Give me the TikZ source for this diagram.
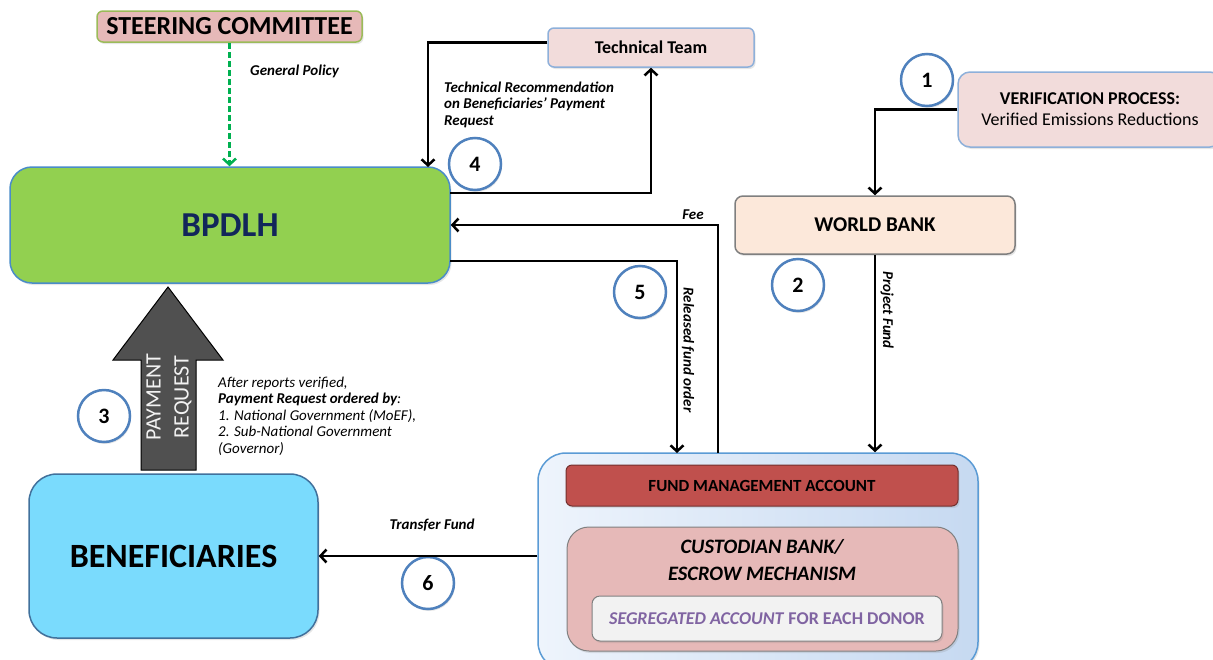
\documentclass[tikz,border=0pt]{standalone}
\usepackage{fontspec}
\setmainfont{Carlito}
\usetikzlibrary{shadows, arrows.meta}

\definecolor{steerpink}{HTML}{E6B9B8}
\definecolor{steergreen}{HTML}{9BBB59}
\definecolor{bpgreen}{HTML}{92D050}
\definecolor{bpblue}{HTML}{4A8CC8}
\definecolor{bpnavy}{HTML}{12265A}
\definecolor{palepink}{HTML}{F2DCDB}
\definecolor{paleblue}{HTML}{8EB0DA}
\definecolor{peach}{HTML}{FCE8DA}
\definecolor{wbgrey}{HTML}{7F7F7F}
\definecolor{skyblue}{HTML}{7ADBFD}
\definecolor{benblue}{HTML}{41719C}
\definecolor{arrowgrey}{HTML}{505050}
\definecolor{circblue}{HTML}{4F81BD}
\definecolor{policygreen}{HTML}{00B050}
\definecolor{outerblue}{HTML}{5B9BD5}
\definecolor{outerleft}{HTML}{EEF4FC}
\definecolor{outerright}{HTML}{C6D9F1}
\definecolor{fmared}{HTML}{C0504D}
\definecolor{purpletext}{HTML}{8064A2}

\tikzset{
    >={Straight Barb[length=6pt, width=13pt]},
    box/.style={draw, line width=1.5pt, inner sep=0pt, rounded corners=6pt,
        drop shadow={shadow xshift=1.5pt, shadow yshift=-2pt, opacity=0.2}},
    stepnum/.style={circle, draw=circblue, fill=white, line width=2.5pt, minimum size=52pt,
        inner sep=0pt, font=\fontsize{22}{26}\selectfont\bfseries,
        drop shadow={shadow xshift=1pt, shadow yshift=-2pt, opacity=0.2}},
    flow/.style={->, line width=2.5pt},
    policy/.style={->, policygreen, line width=2.5pt, dash pattern=on 6pt off 3pt},
    lbl/.style={inner sep=0pt, font=\fontsize{15}{16.5}\selectfont\bfseries\itshape},
}

\begin{document}
\begin{tikzpicture}[x=1pt, y=-1pt]
    \useasboundingbox (0,0) rectangle (1213,659);

    % boxes
    \node[box, fill=steerpink, draw=steergreen, minimum width=265pt, minimum height=31pt,
        font=\fontsize{26}{30}\selectfont\bfseries] (steer) at (229.5,26.5) {STEERING COMMITTEE};
    \node[box, fill=bpgreen, draw=bpblue, rounded corners=22pt, minimum width=440pt, minimum height=116pt,
        text=bpnavy, font=\fontsize{35}{40}\selectfont\bfseries] (bpdlh) at (230,225) {BPDLH};
    \node[box, fill=palepink, draw=paleblue, minimum width=206pt, minimum height=39pt,
        font=\fontsize{18}{21}\selectfont\bfseries] (tech) at (651,47.5) {Technical Team};
    \node[box, fill=palepink, draw=paleblue, rounded corners=12pt, minimum width=264pt, minimum height=75pt,
        align=center, font=\fontsize{18}{21}\selectfont] (verif) at (1090,109.5)
        {\textbf{VERIFICATION PROCESS:}\\Verified Emissions Reductions};
    \node[box, fill=peach, draw=wbgrey, rounded corners=8pt, minimum width=280pt, minimum height=58pt,
        font=\fontsize{21}{25}\selectfont\bfseries] (wb) at (875,225) {WORLD BANK};
    \node[box, fill=skyblue, draw=benblue, rounded corners=28pt, minimum width=289pt, minimum height=164pt,
        font=\fontsize{34}{40}\selectfont\bfseries] (benef) at (173.5,556) {BENEFICIARIES};

    % escrow block
    \node[box, left color=outerleft, right color=outerright, draw=outerblue, rounded corners=28pt,
        minimum width=440pt, minimum height=217pt] (outer) at (758,561.5) {};
    \node[box, fill=fmared, draw=fmared!60!black, line width=1pt, minimum width=392pt, minimum height=41pt,
        font=\fontsize{17}{20}\selectfont\bfseries] (fma) at (762,485.5) {FUND MANAGEMENT ACCOUNT};
    \node[box, fill=steerpink, draw=gray, line width=1pt, rounded corners=22pt,
        minimum width=391pt, minimum height=124pt] (cust) at (762.5,589) {};
    \node[inner sep=0pt, align=center, font=\fontsize{20.5}{27}\selectfont\bfseries\itshape]
        (custL) at (762,560.5) {CUSTODIAN BANK/\\ESCROW MECHANISM};
    \node[box, fill=black!5, draw=gray, line width=1pt, rounded corners=8pt, minimum width=350pt,
        minimum height=45pt, text=purpletext, font=\fontsize{18}{21}\selectfont\bfseries]
        (seg) at (767,618.5) {\textit{SEGREGATED ACCOUNT} FOR EACH DONOR};

    % payment request arrow
    \draw[fill=arrowgrey, line width=1pt] (141,470) -- (141,360) -- (113,360) -- (168,287)
        -- (223,360) -- (196,360) -- (196,470) -- cycle;
    \node[rotate=90, inner sep=0pt, align=center, text=black!5, font=\fontsize{22}{28}\selectfont]
        (payreq) at (169,397) {PAYMENT\\REQUEST};

    % numbered steps
    \node[stepnum] (n1) at (927,80) {1};
    \node[stepnum] (n2) at (798,285) {2};
    \node[stepnum] (n3) at (104,416) {3};
    \node[stepnum] (n4) at (475,164) {4};
    \node[stepnum] (n5) at (640,292) {5};
    \node[stepnum] (n6) at (428,583) {6};

    % connectors
    \coordinate (recin) at (428,167);
    \coordinate (recout) at (450,193);
    \coordinate (feefoot) at (718,453);
    \coordinate (relout) at (450,261);
    \coordinate (relin) at (677,453);

    \draw[policy] (steer.south) -- (steer.south |- bpdlh.north);
    \draw[flow] ([yshift=5pt]tech.west) -| (recin);
    \draw[flow] (recout) -| (tech.south);
    \draw[flow] (feefoot) |- (bpdlh.east);
    \draw[flow] (relout) -| (relin);
    \draw[flow] (verif.west) -| (wb.north);
    \draw[flow] (wb.south) -- (wb.south |- outer.north);
    \draw[flow] (outer.west |- benef.east) -- (benef.east);

    % labels
    \node[lbl, anchor=west] (polL) at (250,71) {General Policy};
    \node[lbl, anchor=west, align=left] (recL) at (444,104.5)
        {Technical Recommendation\\on Beneficiaries' Payment\\Request};
    \node[lbl] (feeL) at (693,215) {Fee};
    \node[lbl, rotate=-90] (projL) at (887,310) {Project Fund};
    \node[lbl, rotate=-90] (relL) at (688,350) {Released fund order};
    \node[lbl] (trL) at (432,525) {Transfer Fund};
    \node[anchor=west, align=left, inner sep=0pt, font=\fontsize{15}{16.5}\selectfont\itshape]
        (afterL) at (218,416) {After reports verified,\\\textbf{Payment Request ordered by}:\\
        1. National Government (MoEF),\\2. Sub-National Government\\(Governor)};
\end{tikzpicture}
\end{document}
